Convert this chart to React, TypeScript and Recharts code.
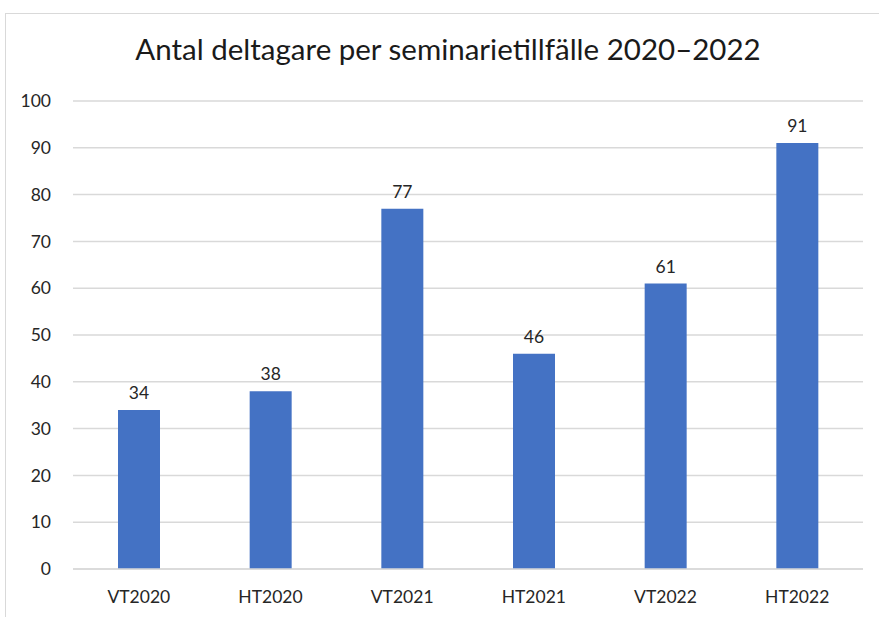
import { BarChart, Bar, XAxis, YAxis, CartesianGrid, LabelList } from 'recharts'

const categories = ['VT2020', 'HT2020', 'VT2021', 'HT2021', 'VT2022', 'HT2022']
const participants = [34, 38, 77, 46, 61, 91]
const yTicks = [0, 10, 20, 30, 40, 50, 60, 70, 80, 90, 100]

const data = categories.map((name, i) => ({ name, value: participants[i] }))

const font = "Lato, 'Open Sans', sans-serif"

const App = () => {
  return (
    <div style={{ position: 'absolute', left: 0, top: 0, width: 879, height: 617, background: '#fff', overflow: 'hidden', fontFamily: font }}>
      <div style={{ position: 'absolute', left: 5, top: 13, width: 900, height: 700, border: '1px solid #d9d9d9' }} />
      <div style={{ position: 'absolute', left: 0, top: 31, width: 896, textAlign: 'center', fontSize: 29.5, color: '#1a1a1a' }}>
        Antal deltagare per seminarietillfälle 2020–2022
      </div>
      <BarChart
        width={879}
        height={617}
        data={data}
        margin={{ top: 101, right: 16, bottom: 16, left: 20 }}
        style={{ position: 'absolute', left: 0, top: 0 }}
      >
        <CartesianGrid vertical={false} stroke="#d9d9d9" strokeWidth={1.5} />
        <XAxis
          dataKey="name"
          axisLine={{ stroke: '#d9d9d9', strokeWidth: 1.5 }}
          tickLine={false}
          height={32}
          tick={{ fill: '#262626', fontSize: 17.5, fontFamily: font }}
          tickMargin={16}
        />
        <YAxis
          domain={[0, 100]}
          ticks={yTicks}
          axisLine={false}
          tickLine={false}
          width={53}
          tick={{ fill: '#262626', fontSize: 17.5, fontFamily: font }}
          tickMargin={16}
        />
        <Bar dataKey="value" fill="#4472C4" barSize={42} isAnimationActive={false}>
          <LabelList dataKey="value" position="top" offset={11} fill="#262626" fontSize={17.5} fontFamily={font} />
        </Bar>
      </BarChart>
    </div>
  )
}

export default App
